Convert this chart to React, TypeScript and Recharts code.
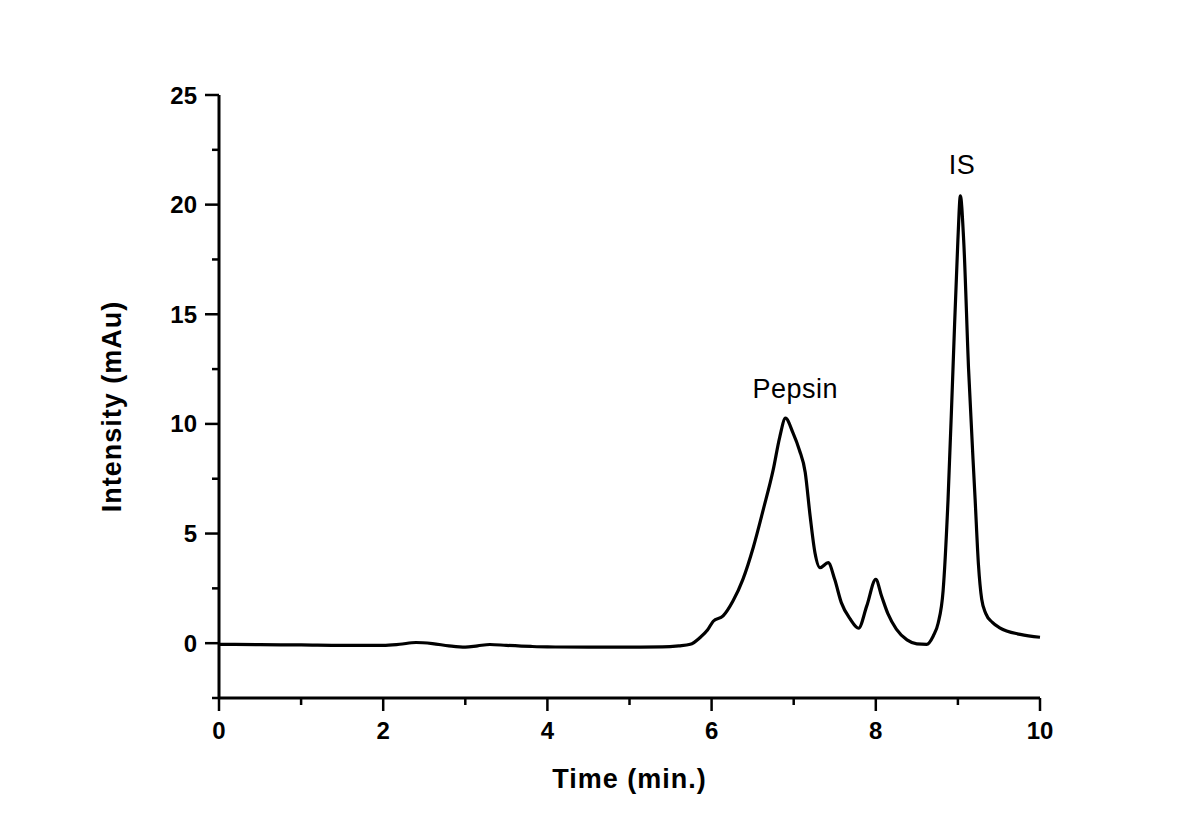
import { Label, Line, LineChart, ReferenceDot, XAxis, YAxis } from 'recharts';

// retention time (min.) and detector signal (mAu)
const times = [
  0, 0.5, 1, 1.5, 2, 2.2, 2.4, 2.6, 2.8, 3.0, 3.15, 3.3, 3.5, 3.8, 4.0, 4.5, 5.0, 5.4,
  5.6, 5.74, 5.86, 5.95, 6.02, 6.14, 6.26, 6.38, 6.51, 6.63, 6.75, 6.83, 6.9, 6.99,
  7.07, 7.14, 7.2, 7.26, 7.32, 7.42, 7.5, 7.58, 7.69, 7.79, 7.89, 8.0, 8.07, 8.15,
  8.25, 8.38, 8.5, 8.62, 8.7, 8.76, 8.82, 8.88, 8.94, 9.0, 9.03, 9.07, 9.13, 9.21,
  9.25, 9.29, 9.34, 9.42, 9.51, 9.76, 10.0,
];
const intensity = [
  -0.05, -0.07, -0.08, -0.1, -0.1, -0.05, 0.03, -0.02, -0.12, -0.18, -0.12, -0.06, -0.1,
  -0.15, -0.17, -0.18, -0.18, -0.17, -0.12, -0.05, 0.26, 0.6, 1.0, 1.24, 1.92, 2.9, 4.4,
  6.1, 7.9, 9.4, 10.26, 9.6, 8.8, 7.8, 5.8, 4.1, 3.44, 3.67, 2.9, 1.85, 1.09, 0.68, 1.7,
  2.91, 2.15, 1.32, 0.64, 0.15, -0.03, -0.05, 0.33, 0.92, 2.4, 6.55, 12.5, 18.4, 20.4,
  18.4, 12.5, 6.55, 3.6, 2.0, 1.35, 0.95, 0.7, 0.4, 0.27,
];

const xTicks = [0, 1, 2, 3, 4, 5, 6, 7, 8, 9, 10];
const yTicks = [-2.5, 0, 2.5, 5, 7.5, 10, 12.5, 15, 17.5, 20, 22.5, 25];

// peak labels: [time, intensity at text baseline, text]
const peakLabels: [number, number, string][] = [
  [7.02, 11.2, 'Pepsin'],
  [9.05, 21.4, 'IS'],
];

const data = times.map((t, i) => ({ time: t, signal: intensity[i] }));

const font = 'Arial, "Liberation Sans", sans-serif';

function XTick({ x, y, payload }: any) {
  const major = payload.value % 2 === 0;
  return (
    <g>
      <line x1={x} y1={y} x2={x} y2={y + (major ? 13 : 7)} stroke="#000" strokeWidth={2.5} />
      {major && (
        <text x={x} y={y + 41} textAnchor="middle" fontFamily={font} fontWeight="bold" fontSize={24} fill="#000">
          {payload.value}
        </text>
      )}
    </g>
  );
}

function YTick({ x, y, payload }: any) {
  const major = payload.value % 5 === 0;
  return (
    <g>
      <line x1={x} y1={y} x2={x - (major ? 14 : 7)} y2={y} stroke="#000" strokeWidth={2.5} />
      {major && (
        <text x={x - 22} y={y} dy="0.355em" textAnchor="end" fontFamily={font} fontWeight="bold" fontSize={24} fill="#000">
          {payload.value}
        </text>
      )}
    </g>
  );
}

function YTitle({ viewBox }: any) {
  const cx = viewBox.x + viewBox.width / 2 - 2;
  const cy = viewBox.y + viewBox.height / 2 + 10;
  return (
    <text
      x={cx}
      y={cy}
      transform={`rotate(-90 ${cx} ${cy})`}
      textAnchor="middle"
      dy="0.355em"
      fontFamily={font}
      fontWeight="bold"
      fontSize={27}
      letterSpacing={1}
      fill="#000"
    >
      Intensity (mAu)
    </text>
  );
}

export default function App() {
  return (
    <div style={{ width: 1185, height: 818, background: '#fff' }}>
      <LineChart width={1185} height={818} data={data} margin={{ top: 87, right: 153, bottom: 0, left: 0 }}>
        <XAxis
          dataKey="time"
          type="number"
          domain={[0, 10]}
          ticks={xTicks}
          interval={0}
          height={128}
          tickSize={0}
          tickMargin={0}
          tickLine={false}
          axisLine={{ stroke: '#000', strokeWidth: 3 }}
          tick={<XTick />}
        >
          <Label
            value="Time (min.)"
            position="insideBottom"
            offset={38}
            fontFamily={font}
            fontWeight="bold"
            fontSize={27}
            letterSpacing={1}
            fill="#000"
          />
        </XAxis>
        <YAxis
          type="number"
          domain={[-2.5, 25]}
          ticks={yTicks}
          interval={0}
          allowDataOverflow
          width={211}
          tickSize={0}
          tickMargin={0}
          tickLine={false}
          axisLine={{ stroke: '#000', strokeWidth: 3 }}
          tick={<YTick />}
        >
          <Label content={<YTitle />} />
        </YAxis>
        <Line
          type="monotone"
          dataKey="signal"
          stroke="#000"
          strokeWidth={3.2}
          dot={false}
          activeDot={false}
          isAnimationActive={false}
        />
        {peakLabels.map(([t, v, text]) => (
          <ReferenceDot
            key={text}
            x={t}
            y={v}
            r={0}
            stroke="none"
            fill="none"
            label={{
              value: text,
              position: 'top',
              offset: 0,
              fontFamily: font,
              fontSize: 27,
              letterSpacing: 0.5,
              fill: '#000',
            }}
          />
        ))}
      </LineChart>
    </div>
  );
}
